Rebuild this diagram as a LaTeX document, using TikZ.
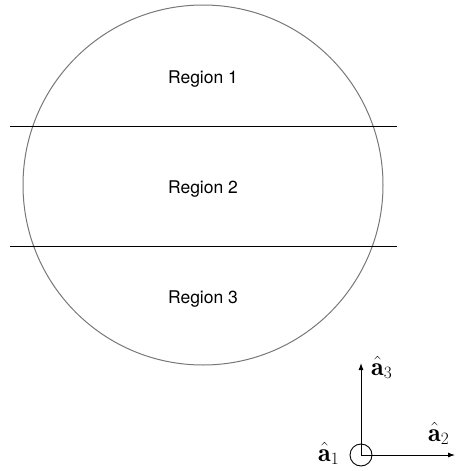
\documentclass[tikz,border=0pt]{standalone}
\usepackage{amsmath,amssymb}
\usepackage{fontspec}
\setsansfont{TeX Gyre Heros}
\usetikzlibrary{arrows.meta,positioning}
\definecolor{rimgray}{RGB}{120,120,120}
\tikzset{
  regionlabel/.style={font=\sffamily\fontsize{17.5}{20}\selectfont, anchor=base, inner sep=0pt},
  axislabel/.style={font=\fontsize{26}{30}\selectfont, anchor=base west, inner sep=0pt},
  axisline/.style={line width=0.9pt, -{Latex[length=7pt,width=5pt]}}
}

\begin{document}
\begin{tikzpicture}[x=1pt, y=-1pt]
  \useasboundingbox (0,0) rectangle (455,471);
  \draw[rimgray, line width=1pt] (203,185) circle [radius=180pt];
  \coordinate (c1l) at (10,126);
  \coordinate (c1r) at (397,126);
  \coordinate (c2l) at (10,246);
  \coordinate (c2r) at (397,246);
  \draw[line width=1pt] (c1l) -- (c1r);
  \draw[line width=1pt] (c2l) -- (c2r);
  \node[regionlabel] (r1) at (203,83) {Region 1};
  \node[regionlabel] (r2) at (203,193.5) {Region 2};
  \node[regionlabel] (r3) at (203,303.5) {Region 3};
  % triad
  \coordinate (o) at (361,455);
  \coordinate (e3) at (361,363);
  \coordinate (e2) at (455,455);
  \draw[line width=0.9pt] (o) circle [radius=11pt];
  \draw[axisline] (o) -- (e3);
  \draw[axisline] (o) -- (e2);
  \node[axislabel] (a3) at (371,375) {$\hat{\mathbf{a}}_3$};
  \node[axislabel] (a2) at (428,441) {$\hat{\mathbf{a}}_2$};
  \node[axislabel] (a1) at (318,461) {$\hat{\mathbf{a}}_1$};
\end{tikzpicture}
\end{document}
